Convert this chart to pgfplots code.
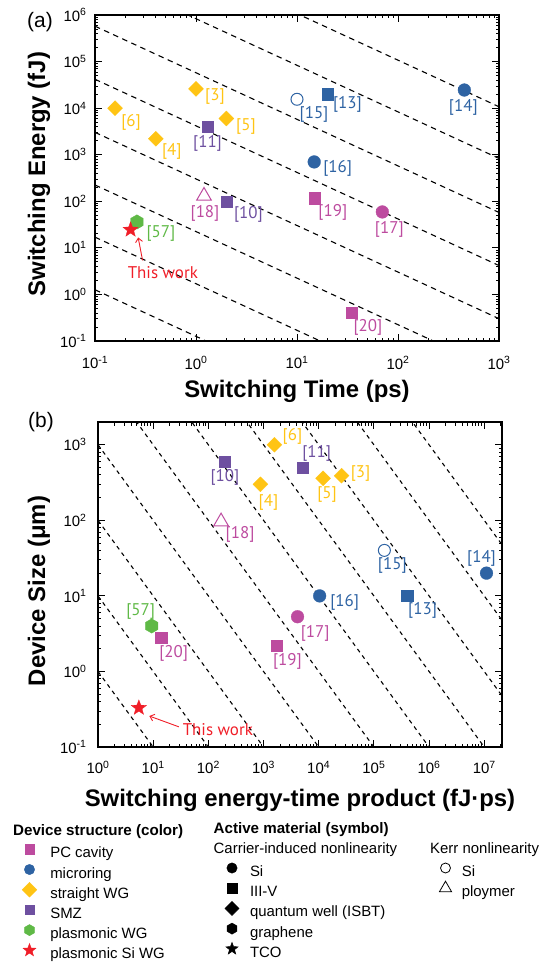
\documentclass[border=0pt]{standalone}
\usepackage{fontspec}
\setmainfont{Liberation Sans}
\newfontfamily\lab{PT Sans}
\usepackage{pgfplots}
\pgfplotsset{compat=1.18}
\usetikzlibrary{arrows.meta}

\definecolor{pcc}{HTML}{BD4B9F}
\definecolor{mrc}{HTML}{2E63A3}
\definecolor{swc}{HTML}{FFC414}
\definecolor{smc}{HTML}{6E50A0}
\definecolor{plc}{HTML}{5FB946}
\definecolor{psc}{HTML}{F01E28}

\pgfdeclareplotmark{hex*}{%
  \pgfpathmoveto{\pgfpointpolar{90}{\pgfplotmarksize}}%
  \pgfpathlineto{\pgfpointpolar{150}{\pgfplotmarksize}}%
  \pgfpathlineto{\pgfpointpolar{210}{\pgfplotmarksize}}%
  \pgfpathlineto{\pgfpointpolar{270}{\pgfplotmarksize}}%
  \pgfpathlineto{\pgfpointpolar{330}{\pgfplotmarksize}}%
  \pgfpathlineto{\pgfpointpolar{30}{\pgfplotmarksize}}%
  \pgfpathclose\pgfusepathqfillstroke}
\pgfdeclareplotmark{fstar*}{%
  \pgfpathmoveto{\pgfpointpolar{90}{\pgfplotmarksize}}%
  \pgfpathlineto{\pgfpointpolar{126}{0.42*\pgfplotmarksize}}%
  \pgfpathlineto{\pgfpointpolar{162}{\pgfplotmarksize}}%
  \pgfpathlineto{\pgfpointpolar{198}{0.42*\pgfplotmarksize}}%
  \pgfpathlineto{\pgfpointpolar{234}{\pgfplotmarksize}}%
  \pgfpathlineto{\pgfpointpolar{270}{0.42*\pgfplotmarksize}}%
  \pgfpathlineto{\pgfpointpolar{306}{\pgfplotmarksize}}%
  \pgfpathlineto{\pgfpointpolar{342}{0.42*\pgfplotmarksize}}%
  \pgfpathlineto{\pgfpointpolar{18}{\pgfplotmarksize}}%
  \pgfpathlineto{\pgfpointpolar{54}{0.42*\pgfplotmarksize}}%
  \pgfpathclose\pgfusepathqfillstroke}

\pgfplotsset{
  mksw/.style={only marks, mark=square*, mark size=5.3bp, color=swc, mark options={rotate=45, line width=0.3bp}},
  mksmsq/.style={only marks, mark=square*, mark size=5.6bp, color=smc, mark options={line width=0.3bp}},
  mkpcsq/.style={only marks, mark=square*, mark size=5.6bp, color=pcc, mark options={line width=0.3bp}},
  mkmrsq/.style={only marks, mark=square*, mark size=5.6bp, color=mrc, mark options={line width=0.3bp}},
  mkmrci/.style={only marks, mark=*, mark size=6.4bp, color=mrc, mark options={line width=0.3bp}},
  mkpcci/.style={only marks, mark=*, mark size=6.4bp, color=pcc, mark options={line width=0.3bp}},
  mkmro/.style={only marks, mark=o, mark size=6bp, color=mrc, mark options={line width=1bp}},
  mkpctri/.style={only marks, mark=triangle, mark size=8.5bp, color=pcc, mark options={line width=1bp}},
  mkplhex/.style={only marks, mark=hex*, mark size=7.2bp, color=plc, mark options={line width=0.3bp}},
  mkpsstar/.style={only marks, mark=fstar*, mark size=8bp, color=psc, mark options={line width=0.3bp}},
  mydla/.style={black, line width=1.1bp, dash pattern=on 5.5bp off 4.5bp},
  mydlb/.style={black, line width=1.1bp, dash pattern=on 4bp off 4bp},
}
\tikzset{lbl/.style={font=\lab\fontsize{17}{17}\selectfont, inner sep=0pt, anchor=center}}
\newcommand\ttt[1]{10\textsuperscript{#1}}
\newcommand\pt[7]{\addplot[#1] coordinates {(#2,#3)};
  \node[lbl, text=#4, xshift=#5bp, yshift=#6bp] at (axis cs:#2,#3) {#7};}

\begin{document}
\begin{tikzpicture}
\useasboundingbox (0,0) rectangle (543bp,-962bp);

% ---------------- (a) ----------------
\begin{axis}[scale only axis, anchor=south west, xmode=log, ymode=log, clip mode=individual,
  tick align=inside, major tick length=7bp, minor tick length=3.5bp,
  every tick/.style={black, line width=0.8bp},
  axis line style={line width=1.2bp},
  ticklabel style={font=\fontsize{15}{15}\selectfont},
  label style={font=\bfseries\fontsize{24}{24}\selectfont},
  at={(95bp,-341bp)}, width=404bp, height=326bp,
  xmin=0.1, xmax=1000, ymin=0.1, ymax=1e6,
  xtick={0.1,1,10,100,1000},
  xticklabels={\ttt{-1},\ttt{0},\ttt{1},\ttt{2},\ttt{3}},
  ytick={0.1,1,10,100,1000,10000,100000,1000000},
  yticklabels={\ttt{-1},\ttt{0},\ttt{1},\ttt{2},\ttt{3},\ttt{4},\ttt{5},\ttt{6}},
  minor xtick={0.2,0.3,0.4,0.5,0.6,0.7,0.8,0.9,2,3,4,5,6,7,8,9,20,30,40,50,60,70,80,90,200,300,400,500,600,700,800,900},
  minor ytick={0.2,0.3,0.4,0.5,0.6,0.7,0.8,0.9,2,3,4,5,6,7,8,9,20,30,40,50,60,70,80,90,200,300,400,500,600,700,800,900,2e3,3e3,4e3,5e3,6e3,7e3,8e3,9e3,2e4,3e4,4e4,5e4,6e4,7e4,8e4,9e4,2e5,3e5,4e5,5e5,6e5,7e5,8e5,9e5},
  xticklabel style={yshift=-12bp},
  yticklabel style={xshift=-5bp},
  xlabel={Switching Time (ps)}, ylabel={Switching Energy (fJ)},
  xlabel style={at={(axis description cs:0.5,-0.1555)}, anchor=center},
  ylabel style={at={(axis description cs:-0.1386,0.512)}, anchor=center},
]
\addplot[mydla] coordinates {(0.1,1.259) (1000,1.259e-4)};
\addplot[mydla] coordinates {(0.1,16.98) (1000,1.698e-3)};
\addplot[mydla] coordinates {(0.1,223.9) (1000,0.02239)};
\addplot[mydla] coordinates {(0.1,3020) (1000,0.302)};
\addplot[mydla] coordinates {(0.1,41690) (1000,4.169)};
\addplot[mydla] coordinates {(0.1,575400) (1000,57.54)};
\addplot[mydla] coordinates {(0.1,8.318e6) (1000,831.8)};
\addplot[mydla] coordinates {(0.1,1.072e8) (1000,1.072e4)};

\pt{mksw}{1.0}{26000}{swc}{19}{-8}{[3]}
\pt{mksw}{0.158}{10000}{swc}{16}{-14}{[6]}
\pt{mksw}{2.0}{6000}{swc}{19.5}{-8}{[5]}
\pt{mksw}{0.40}{2200}{swc}{16}{-13}{[4]}
\pt{mksmsq}{1.3}{4000}{smc}{0}{-17}{[11]}
\pt{mksmsq}{2.0}{100}{smc}{22}{-13}{[10]}
\pt{mkmro}{10}{15500}{mrc}{17}{-15}{[15]}
\pt{mkmrsq}{20}{20000}{mrc}{20}{-10}{[13]}
\pt{mkmrci}{454}{24500}{mrc}{-1}{-17}{[14]}
\pt{mkmrci}{14.8}{700}{mrc}{23.5}{-6}{[16]}
\pt{mkpctri}{1.2}{130}{pcc}{1}{-17}{[18]}
\pt{mkpcsq}{15}{117}{pcc}{18}{-14}{[19]}
\pt{mkpcci}{70}{59}{pcc}{7}{-17}{[17]}
\pt{mkpcsq}{35}{0.4}{pcc}{16}{-14}{[20]}
\pt{mkplhex}{0.26}{36}{plc}{24}{-12}{[57]}
\addplot[mkpsstar] coordinates {(0.225,24.5)};
\node[lbl, text=psc, xshift=32.3bp, yshift=-43bp] at (axis cs:0.225,24.5) {This work};
\draw[psc, line width=0.9bp, -{Straight Barb[length=4bp,width=7bp]}]
  ([xshift=12bp,yshift=-30.7bp]axis cs:0.225,24.5) -- ([xshift=7.6bp,yshift=-7.7bp]axis cs:0.225,24.5);
\end{axis}

% ---------------- (b) ----------------
\begin{axis}[scale only axis, anchor=south west, xmode=log, ymode=log, clip mode=individual,
  tick align=inside, major tick length=7bp, minor tick length=3.5bp,
  every tick/.style={black, line width=0.8bp},
  axis line style={line width=1.2bp},
  ticklabel style={font=\fontsize{15}{15}\selectfont},
  label style={font=\bfseries\fontsize{24}{24}\selectfont},
  at={(98bp,-747bp)}, width=404bp, height=325bp,
  xmin=1, xmax=2.1e7, ymin=0.1, ymax=2000,
  xtick={1,10,100,1000,10000,100000,1000000,10000000},
  xticklabels={\ttt{0},\ttt{1},\ttt{2},\ttt{3},\ttt{4},\ttt{5},\ttt{6},\ttt{7}},
  ytick={0.1,1,10,100,1000},
  yticklabels={\ttt{-1},\ttt{0},\ttt{1},\ttt{2},\ttt{3}},
  minor xtick={2,3,4,5,6,7,8,9,20,30,40,50,60,70,80,90,200,300,400,500,600,700,800,900,2e3,3e3,4e3,5e3,6e3,7e3,8e3,9e3,2e4,3e4,4e4,5e4,6e4,7e4,8e4,9e4,2e5,3e5,4e5,5e5,6e5,7e5,8e5,9e5,2e6,3e6,4e6,5e6,6e6,7e6,8e6,9e6,2e7},
  minor ytick={0.2,0.3,0.4,0.5,0.6,0.7,0.8,0.9,2,3,4,5,6,7,8,9,20,30,40,50,60,70,80,90,200,300,400,500,600,700,800,900,2000},
  xticklabel style={yshift=-10.5bp},
  yticklabel style={xshift=-8bp},
  xlabel={Switching energy-time product (fJ·ps)}, ylabel={Device Size (μm)},
  xlabel style={at={(axis description cs:0.5,-0.163)}, anchor=center},
  ylabel style={at={(axis description cs:-0.146,0.48)}, anchor=center},
]
\addplot[mydlb] coordinates {(1,1) (10,0.1)};
\addplot[mydlb] coordinates {(1,10) (100,0.1)};
\addplot[mydlb] coordinates {(1,100) (1000,0.1)};
\addplot[mydlb] coordinates {(1,1000) (1e4,0.1)};
\addplot[mydlb] coordinates {(1,1e4) (1e5,0.1)};
\addplot[mydlb] coordinates {(1,1e5) (1e6,0.1)};
\addplot[mydlb] coordinates {(1,1e6) (1e7,0.1)};
\addplot[mydlb] coordinates {(1,1e7) (1e8,0.1)};
\addplot[mydlb] coordinates {(1,1e8) (1e9,0.1)};
\addplot[mydlb] coordinates {(1,1e9) (1e10,0.1)};

\pt{mksw}{1580}{1000}{swc}{18}{8}{[6]}
\pt{mksmsq}{5200}{500}{smc}{13.6}{14}{[11]}
\pt{mksmsq}{200}{600}{smc}{0}{-15.5}{[10]}
\pt{mksw}{26000}{390}{swc}{19}{2.5}{[3]}
\pt{mksw}{12000}{360}{swc}{4}{-16.5}{[5]}
\pt{mksw}{880}{300}{swc}{8}{-18}{[4]}
\pt{mkpctri}{170}{96}{pcc}{19}{-13}{[18]}
\pt{mkmro}{155000}{40}{mrc}{8}{-15.5}{[15]}
\pt{mkmrci}{1.1e7}{20}{mrc}{-5}{15}{[14]}
\pt{mkmrci}{10400}{10}{mrc}{25}{-7}{[16]}
\pt{mkmrsq}{400000}{10}{mrc}{15.5}{-15}{[13]}
\pt{mkpcci}{4130}{5.3}{pcc}{17.7}{-17}{[17]}
\pt{mkplhex}{9.4}{4.0}{plc}{-11}{14}{[57]}
\pt{mkpcsq}{14}{2.8}{pcc}{12.4}{-15.5}{[20]}
\pt{mkpcsq}{1755}{2.2}{pcc}{10.4}{-16}{[19]}
\addplot[mkpsstar] coordinates {(5.5,0.33)};
\node[lbl, text=psc, xshift=79bp, yshift=-22bp] at (axis cs:5.5,0.33) {This work};
\draw[psc, line width=0.9bp, -{Straight Barb[length=4bp,width=7bp]}]
  ([xshift=40bp,yshift=-19bp]axis cs:5.5,0.33) -- ([xshift=10.5bp,yshift=-8.2bp]axis cs:5.5,0.33);
\end{axis}

% panel labels
\node[font=\fontsize{21}{21}\selectfont, inner sep=0pt] at (40bp,-22.5bp) {(a)};
\node[font=\fontsize{21}{21}\selectfont, inner sep=0pt] at (41bp,-422.5bp) {(b)};

% ---------------- legends ----------------
\node[anchor=west, inner sep=0pt, font=\bfseries\fontsize{15.2}{15.2}\selectfont] at (13bp,-832bp) {Device structure (color)};
\node[anchor=west, inner sep=0pt, font=\bfseries\fontsize{15.2}{15.2}\selectfont] at (213.5bp,-830bp) {Active material (symbol)};
\node[anchor=west, inner sep=0pt, font=\fontsize{15}{15}\selectfont] at (213.5bp,-850bp) {Carrier-induced nonlinearity};
\node[anchor=west, inner sep=0pt, font=\fontsize{15}{15}\selectfont] at (430bp,-850bp) {Kerr nonlinearity};

\begin{axis}[hide axis, scale only axis, width=10bp, height=10bp, xmin=0, xmax=1, ymin=0, ymax=1,
    anchor=north west, at={(21.5bp,-843.8bp)},
    legend image code/.code={\path[draw=none,fill=none] (-8bp,0bp) rectangle (8bp,10bp); \draw[overlay,#1] plot coordinates {(0bp,4.5bp)};},
    legend cell align=left,
    legend style={at={(0,1)}, anchor=north west, draw=none, fill=none, inner sep=0pt, outer sep=0pt,
      row sep=3.2bp, column sep=12.8bp, font=\fontsize{15}{15}\selectfont, nodes={inner sep=0pt, text height=11bp, text depth=3bp}}]
\addlegendimage{mark=square*, pcc, mark size=4.7bp}
\addlegendentry{PC cavity}
\addlegendimage{mark=*, mrc, mark size=5.2bp}
\addlegendentry{microring}
\addlegendimage{mark=square*, swc, mark size=5.2bp, mark options={rotate=45}}
\addlegendentry{straight WG}
\addlegendimage{mark=square*, smc, mark size=4.7bp}
\addlegendentry{SMZ}
\addlegendimage{mark=hex*, plc, mark size=5.6bp}
\addlegendentry{plasmonic WG}
\addlegendimage{mark=fstar*, psc, mark size=6.8bp}
\addlegendentry{plasmonic Si WG}
\end{axis}

\begin{axis}[hide axis, scale only axis, width=10bp, height=10bp, xmin=0, xmax=1, ymin=0, ymax=1,
    anchor=north west, at={(224bp,-862.5bp)},
    legend image code/.code={\path[draw=none,fill=none] (-8bp,0bp) rectangle (8bp,10bp); \draw[overlay,#1] plot coordinates {(0bp,4.5bp)};},
    legend cell align=left,
    legend style={at={(0,1)}, anchor=north west, draw=none, fill=none, inner sep=0pt, outer sep=0pt,
      row sep=3.2bp, column sep=10bp, font=\fontsize{15}{15}\selectfont, nodes={inner sep=0pt, text height=11bp, text depth=3bp}}]
\addlegendimage{mark=*, black, mark size=5.2bp}
\addlegendentry{Si}
\addlegendimage{mark=square*, black, mark size=4.7bp}
\addlegendentry{III-V}
\addlegendimage{mark=square*, black, mark size=5bp, mark options={rotate=45}}
\addlegendentry{quantum well (ISBT)}
\addlegendimage{mark=hex*, black, mark size=5.6bp}
\addlegendentry{graphene}
\addlegendimage{mark=fstar*, black, mark size=6.5bp}
\addlegendentry{TCO}
\end{axis}

\begin{axis}[hide axis, scale only axis, width=10bp, height=10bp, xmin=0, xmax=1, ymin=0, ymax=1,
    anchor=north west, at={(437.5bp,-862.5bp)},
    legend image code/.code={\path[draw=none,fill=none] (-8bp,0bp) rectangle (8bp,10bp); \draw[overlay,#1] plot coordinates {(0bp,4.5bp)};},
    legend cell align=left,
    legend style={at={(0,1)}, anchor=north west, draw=none, fill=none, inner sep=0pt, outer sep=0pt,
      row sep=3.2bp, column sep=8.3bp, font=\fontsize{15}{15}\selectfont, nodes={inner sep=0pt, text height=11bp, text depth=3bp}}]
\addlegendimage{mark=o, black, mark size=5bp, mark options={line width=0.8bp}}
\addlegendentry{Si}
\addlegendimage{mark=triangle, black, mark size=7bp, mark options={line width=0.8bp}}
\addlegendentry{ploymer}
\end{axis}
\end{tikzpicture}
\end{document}
